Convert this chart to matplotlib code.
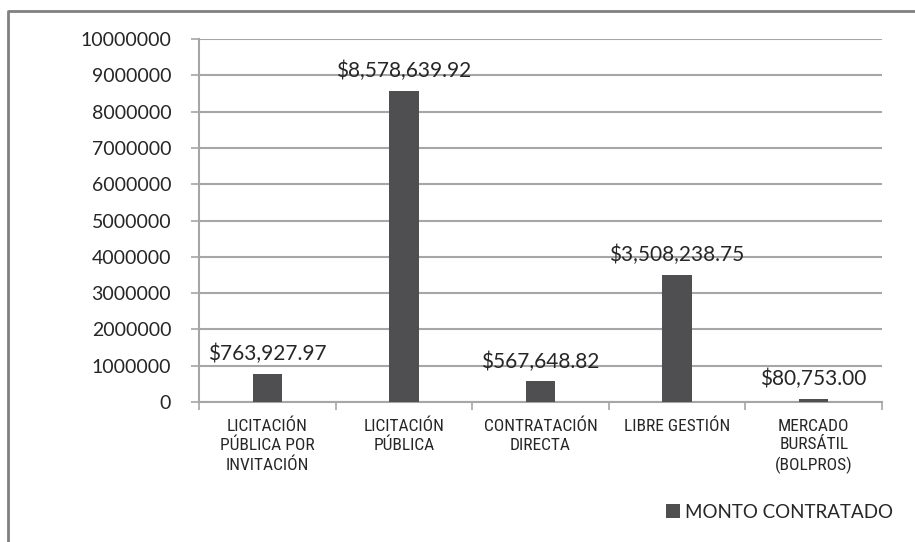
import matplotlib
matplotlib.use("Agg")
import matplotlib.pyplot as plt
from matplotlib.lines import Line2D
from matplotlib import font_manager
import numpy as np

categories = ["LICITACIÓN\nPÚBLICA POR\nINVITACIÓN", "LICITACIÓN\nPÚBLICA",
              "CONTRATACIÓN\nDIRECTA", "LIBRE GESTIÓN", "MERCADO\nBURSÁTIL\n(BOLPROS)"]
values = [763927.97, 8578639.92, 567648.82, 3508238.75, 80753.00]
yticks = list(range(0, 10000001, 1000000))
series_name = "MONTO CONTRATADO"

available = {f.name for f in font_manager.fontManager.ttflist}
narrow_choice = next((n for n in ["Liberation Sans Narrow", "DejaVu Sans Condensed",
                                  "Roboto Condensed", "Open Sans Condensed", "Lato"]
                      if n in available), "Lato")

W, H = 915, 542
fig = plt.figure(figsize=(W / 100, H / 100), dpi=100)
ax = fig.add_axes([199 / W, 1 - 402 / H, (882 - 199) / W, (402 - 39) / H])

bar_color = "#4f4f51"
grid_color = "#a6a6a6"
text_color = "#262626"
font = ["Lato", "DejaVu Sans"]
narrow = [narrow_choice, "DejaVu Sans"]
narrow_size = 12.5 if narrow_choice != "Lato" else 11.5

x = np.arange(len(categories))
bars = ax.bar(x, values, width=0.215, color=bar_color, zorder=3, label=series_name)

ax.set_xlim(-0.5, len(categories) - 0.5)
ax.set_ylim(0, 10000000)
ax.set_yticks(yticks)
ax.set_yticklabels([str(v) for v in yticks], fontfamily=font, fontsize=14, color=text_color)
ax.yaxis.grid(True, color=grid_color, linewidth=1.5, zorder=0)
ax.tick_params(axis="y", direction="out", length=6, width=1.2, color=grid_color, pad=14)

# x: boundary ticks, labels at centers
ax.set_xticks(np.arange(-0.5, len(categories), 1.0))
ax.set_xticklabels([])
ax.set_xticks(x, minor=True)
ax.set_xticklabels(categories, minor=True, fontfamily=narrow, fontsize=narrow_size,
                   color=text_color, linespacing=1.3, va="top")
ax.tick_params(axis="x", which="major", direction="out", length=6, width=1.2, color=grid_color)
ax.tick_params(axis="x", which="minor", length=0, pad=12)

for s in ["top", "right"]:
    ax.spines[s].set_visible(False)
ax.spines["left"].set_color(grid_color)
ax.spines["left"].set_linewidth(1.5)
ax.spines["bottom"].set_color(grid_color)
ax.spines["bottom"].set_linewidth(1.5)

for b, v in zip(bars, values):
    ax.annotate("${:,.2f}".format(v), (b.get_x() + b.get_width() / 2, v),
                xytext=(0, 7), textcoords="offset points", ha="center", va="bottom",
                fontfamily=font, fontsize=15, color=text_color, zorder=4)

leg = fig.legend(handles=[bars], labels=[series_name], loc="center left",
                 bbox_to_anchor=(657 / W, 1 - 512 / H), frameon=False,
                 prop={"family": font, "size": 13.5}, handlelength=0.7, handleheight=0.7,
                 handletextpad=0.3, borderpad=0)
for t in leg.get_texts():
    t.set_color(text_color)

# outer border (left and top only visible)
bx, by = 8 / W, 1 - 11 / H
fig.add_artist(Line2D([bx, bx, 1.0], [0.0, by, by], transform=fig.transFigure,
                      color="#808080", linewidth=2))

fig.savefig("out.png", dpi=100)
